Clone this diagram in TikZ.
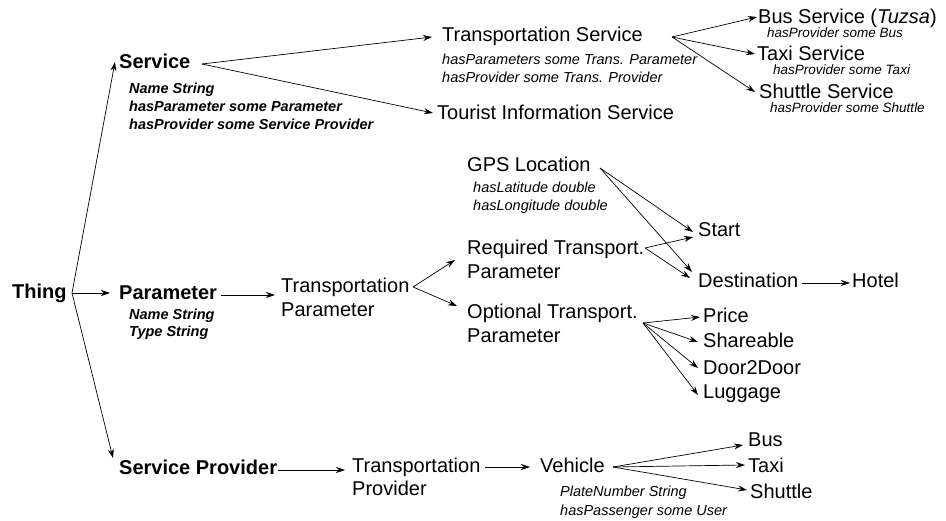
\documentclass[tikz,border=0pt]{standalone}
\usepackage{fontspec}
\setmainfont{Liberation Sans}
\usetikzlibrary{arrows.meta}
\tikzset{
  lbl/.style={anchor=base west, inner sep=0pt, align=left, font=\fontsize{20}{24}\selectfont},
  blbl/.style={lbl, font=\fontsize{20}{24}\selectfont\bfseries},
  attr/.style={anchor=base west, inner sep=0pt, align=left, font=\fontsize{14.5}{18.3}\selectfont\itshape},
  battr/.style={attr, font=\fontsize{14.5}{18.3}\selectfont\bfseries\itshape},
  sattr/.style={attr, font=\fontsize{13.5}{16}\selectfont\itshape},
  arr/.style={-{Stealth[length=9pt,width=6pt,inset=3pt]}, line width=0.7pt},
}
\begin{document}
\begin{tikzpicture}[x=1pt,y=-1pt]
\useasboundingbox[fill=white] (0,0) rectangle (946,521);
% nodes (multi-line nodes are placed at the baseline of their last line)
\node[blbl] (thing) at (12,299) {Thing};
\node[blbl] (service) at (119,69) {Service};
\node[battr] (svcattr) at (129,130) {Name String\\hasParameter some Parameter\\hasProvider some Service Provider};
\node[blbl] (param) at (119,300) {Parameter};
\node[battr, font=\fontsize{14.5}{17.5}\selectfont\bfseries\itshape] (paramattr) at (129,337) {Name String\\Type String};
\node[blbl] (sp) at (119,475) {Service Provider};
\node[lbl] (ts) at (442,42) {Transportation Service};
\node[attr] (tsattr) at (442,83) {hasParameters some Trans. Parameter\\hasProvider some Trans. Provider};
\node[lbl] (tis) at (437,120) {Tourist Information Service};
\node[lbl] (bus) at (758,24) {Bus Service (\textit{Tuzsa})};
\node[sattr] (busattr) at (767,38) {hasProvider some Bus};
\node[lbl] (taxi) at (757,61) {Taxi Service};
\node[sattr] (taxiattr) at (773,75) {hasProvider some Taxi};
\node[lbl] (shuttle) at (759,99) {Shuttle Service};
\node[sattr] (shuttleattr) at (770,113) {hasProvider some Shuttle};
\node[lbl] (gps) at (467,172) {GPS Location};
\node[attr] (gpsattr) at (473,211) {hasLatitude double\\hasLongitude double};
\node[lbl] (req) at (467,279) {Required Transport.\\Parameter};
\node[lbl] (start) at (698,237) {Start};
\node[lbl] (dest) at (698,288) {Destination};
\node[lbl] (hotel) at (852,288) {Hotel};
\node[lbl] (tp) at (281,317) {Transportation\\Parameter};
\node[lbl] (opt) at (467,343) {Optional Transport.\\Parameter};
\node[lbl] (price) at (703,323) {Price};
\node[lbl] (share) at (703,348) {Shareable};
\node[lbl] (door) at (703,375) {Door2Door};
\node[lbl] (lug) at (703,399) {Luggage};
\node[lbl] (tprov) at (352,496) {Transportation\\Provider};
\node[lbl] (veh) at (540,473) {Vehicle};
\node[attr] (vehattr) at (560,515) {PlateNumber String\\hasPassenger some User};
\node[lbl] (vbus) at (748,447) {Bus};
\node[lbl] (vtaxi) at (748,472) {Taxi};
\node[lbl] (vshut) at (750,498) {Shuttle};
% fan origins
\coordinate (thingfan) at ([shift={(60,-6)}]thing.base west);
\coordinate (svcfan) at ([shift={(83,-5)}]service.base west);
\coordinate (paramfan) at ([shift={(102,-5)}]param.base west);
\coordinate (spfan) at ([shift={(159,-5)}]sp.base west);
\coordinate (tsfan) at ([shift={(230,-5)}]ts.base west);
\coordinate (tpfan) at ([shift={(132,-30)}]tp.base west);
\coordinate (gpsfan) at ([shift={(133,-4)}]gps.base west);
\coordinate (reqfan) at ([shift={(178,-31)}]req.base west);
\coordinate (optfan) at ([shift={(176,-20)}]opt.base west);
\coordinate (destfan) at ([shift={(104,-5)}]dest.base west);
\coordinate (tprovfan) at ([shift={(133,-29)}]tprov.base west);
\coordinate (vehfan) at ([shift={(73,-6)}]veh.base west);
% connectors
\draw[arr] (thingfan) -- ([shift={(-4,-7)}]service.base west);
\draw[arr] (thingfan) -- ([shift={(-9,-7)}]param.base west);
\draw[arr] (thingfan) -- ([shift={(-6,-17)}]sp.base west);
\draw[arr] (svcfan) -- ([shift={(-10,-5)}]ts.base west);
\draw[arr] (svcfan) -- ([shift={(-4,-7)}]tis.base west);
\draw[arr] (tsfan) -- ([shift={(-1,-7)}]bus.base west);
\draw[arr] (tsfan) -- ([shift={(-2,-7)}]taxi.base west);
\draw[arr] (tsfan) -- ([shift={(-4,-7)}]shuttle.base west);
\draw[arr] (paramfan) -- ([shift={(-6,-22)}]tp.base west);
\draw[arr] (tpfan) -- ([shift={(-12,-19)}]req.base west);
\draw[arr] (tpfan) -- ([shift={(-10,-37)}]opt.base west);
\draw[arr] (gpsfan) -- ([shift={(-5,-5)}]start.base west);
\draw[arr] (gpsfan) -- ([shift={(-6,-16)}]dest.base west);
\draw[arr] (reqfan) -- ([shift={(-5,0)}]start.base west);
\draw[arr] (reqfan) -- ([shift={(-8,-10)}]dest.base west);
\draw[arr] (destfan) -- ([shift={(-2,-5)}]hotel.base west);
\draw[arr] (optfan) -- ([shift={(-3,-6)}]price.base west);
\draw[arr] (optfan) -- ([shift={(-5,-6)}]share.base west);
\draw[arr] (optfan) -- ([shift={(-5,-7)}]door.base west);
\draw[arr] (optfan) -- ([shift={(-5,-4)}]lug.base west);
\draw[arr] (spfan) -- ([shift={(-7,-26)}]tprov.base west);
\draw[arr] (tprovfan) -- ([shift={(-10,-6)}]veh.base west);
\draw[arr] (vehfan) -- ([shift={(-5,-2)}]vbus.base west);
\draw[arr] (vehfan) -- ([shift={(-3,-7)}]vtaxi.base west);
\draw[arr] (vehfan) -- ([shift={(-3,-8)}]vshut.base west);
\end{tikzpicture}
\end{document}
